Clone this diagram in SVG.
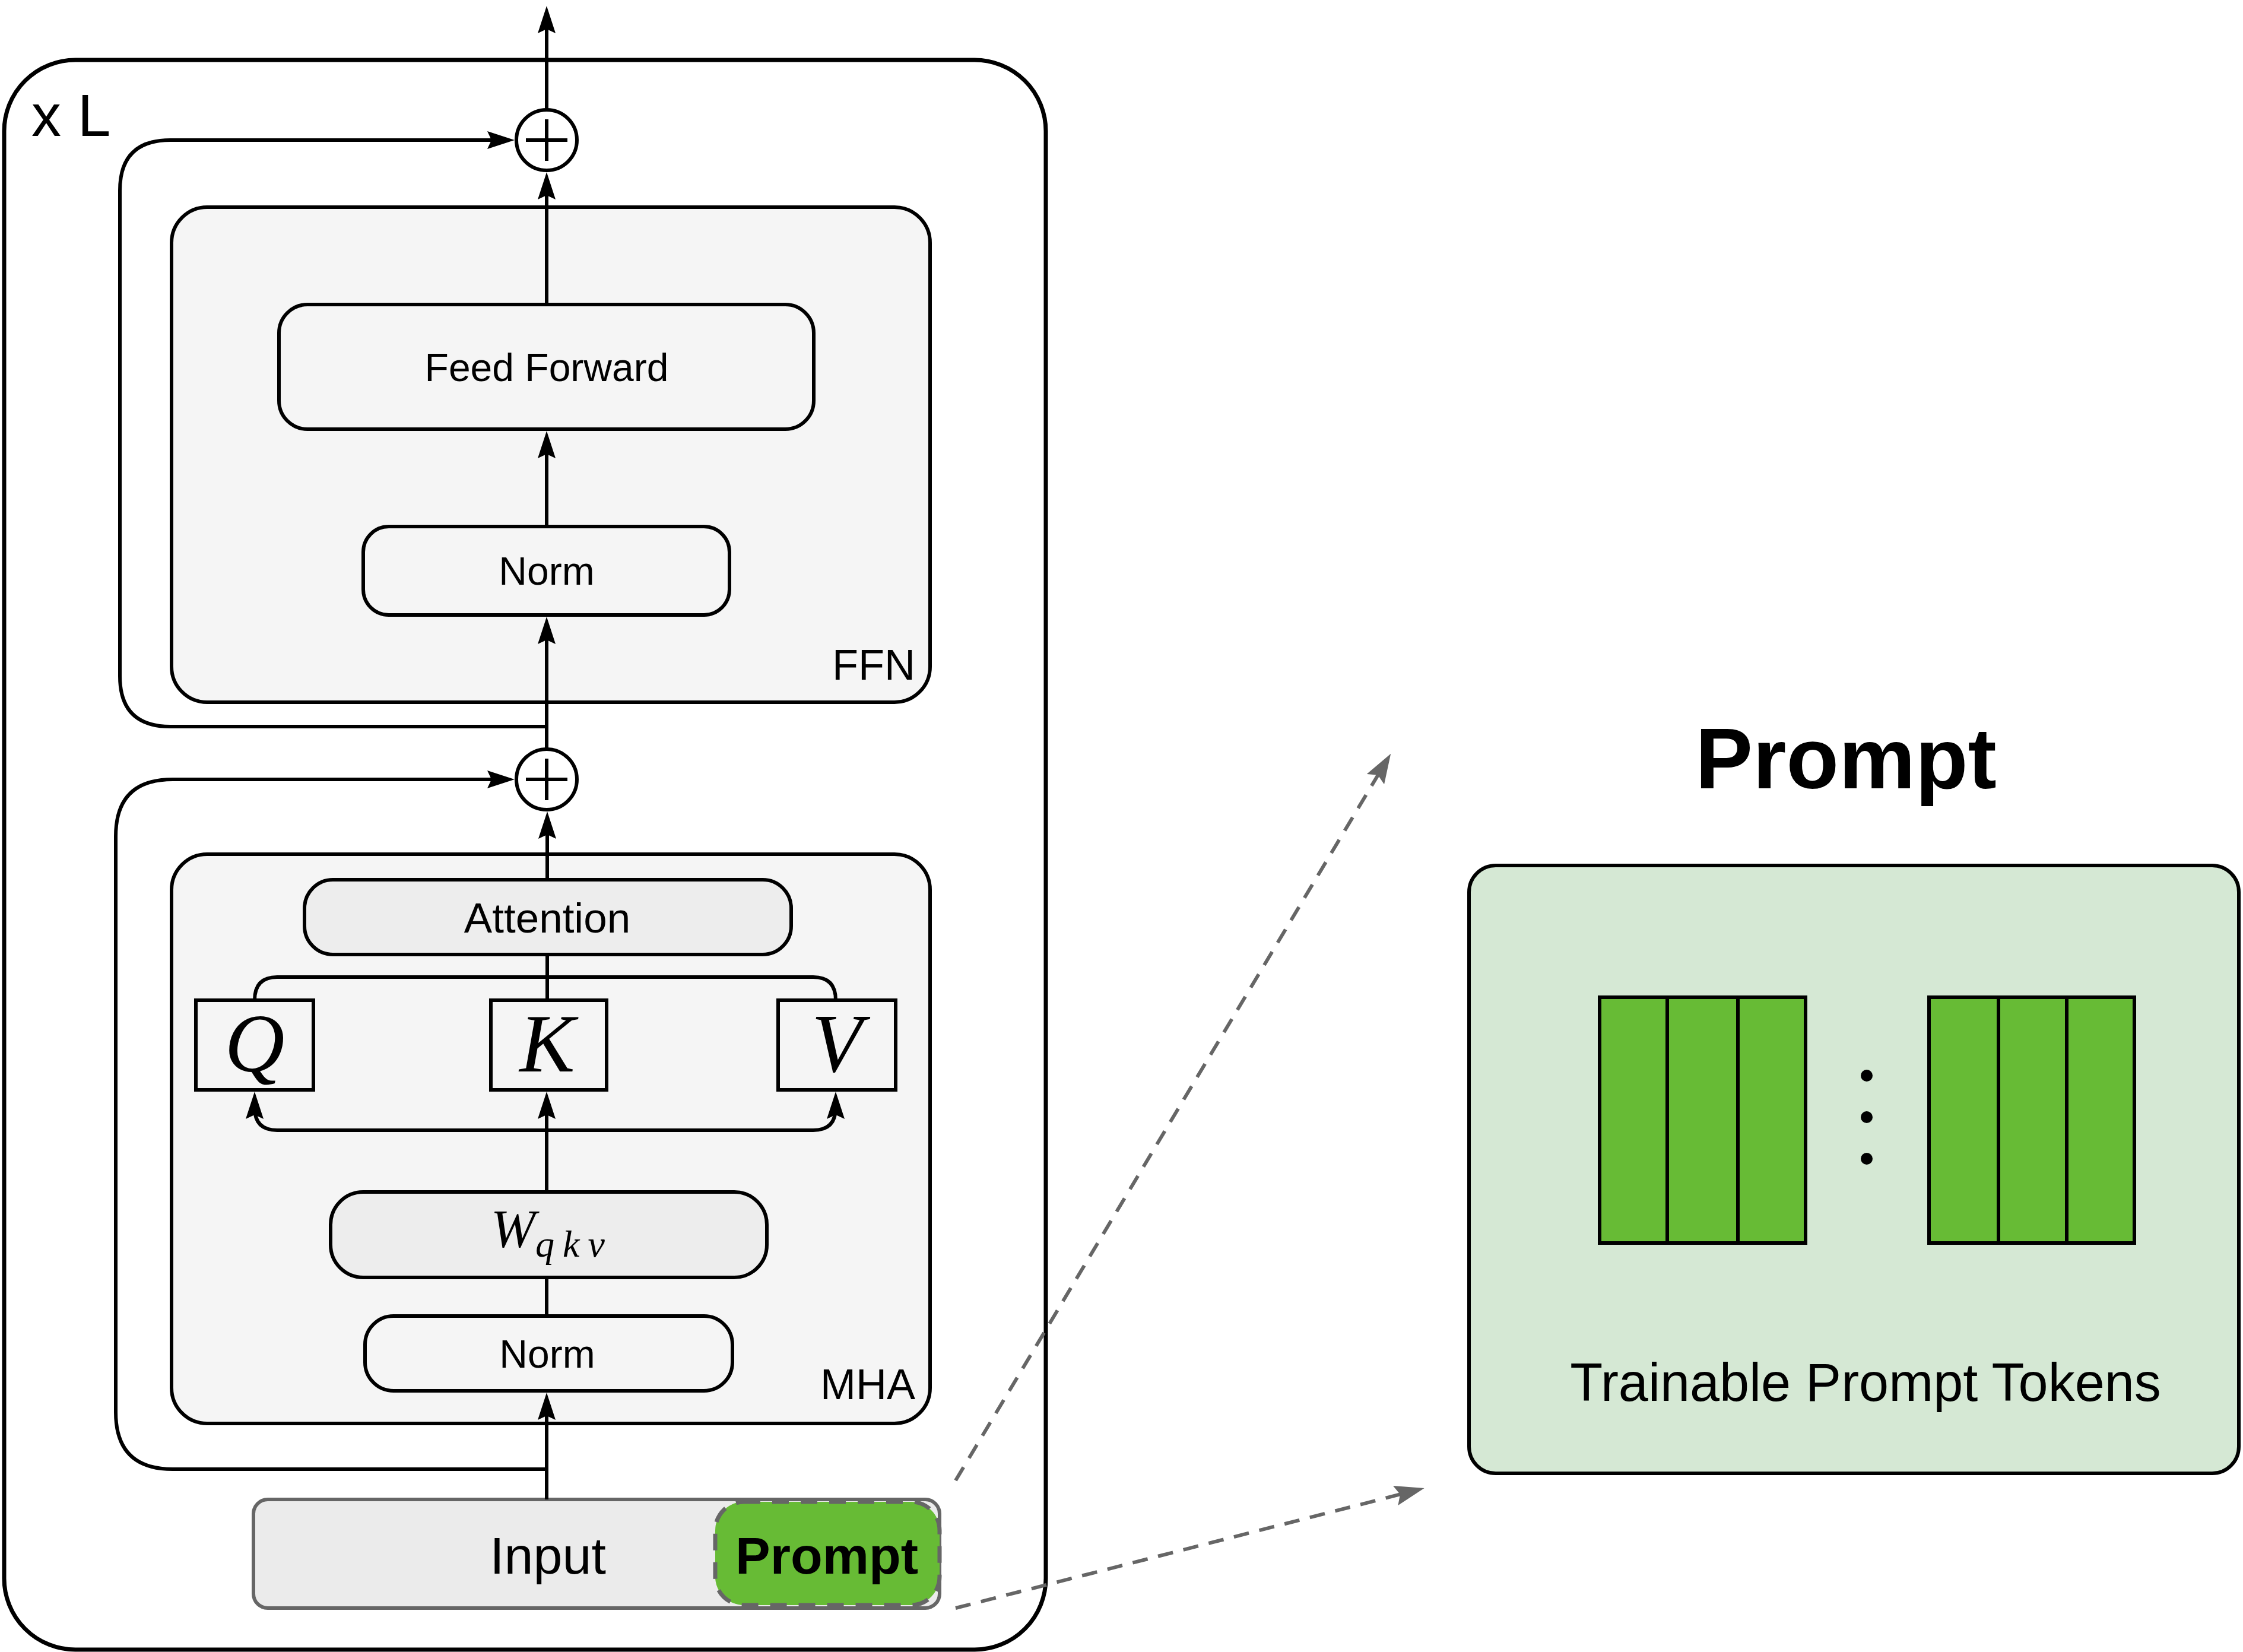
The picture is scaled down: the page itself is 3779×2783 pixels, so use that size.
<svg xmlns="http://www.w3.org/2000/svg" width="3779" height="2783" viewBox="0 0 3779 2783">
<defs>
<style>
.box{stroke:#000;stroke-width:6;fill:#f5f5f5}
.dark{fill:#ededed}
.lbl{font-family:"Liberation Sans",Arial,sans-serif;font-size:66px;fill:#000;text-anchor:middle}
.tag{font-family:"Liberation Sans",Arial,sans-serif;font-size:72px;fill:#000;text-anchor:end}
.math{font-family:"Liberation Serif","Times New Roman",serif;font-style:italic;fill:#000;text-anchor:middle}
.conn{fill:none;stroke:#000;stroke-width:6}
.dash{fill:none;stroke:#666;stroke-width:6;stroke-dasharray:26 18}
.tok{fill:#67bb35;stroke:#000;stroke-width:6}
</style>
<marker id="arr" viewBox="0 0 46 30" refX="34" refY="15" markerWidth="46" markerHeight="30" markerUnits="userSpaceOnUse" orient="auto">
<path d="M0,0 L46,15 L0,30 L7,15 z" fill="#000"/>
</marker>
<marker id="garr" viewBox="0 0 50 34" refX="38" refY="17" markerWidth="50" markerHeight="34" markerUnits="userSpaceOnUse" orient="auto">
<path d="M0,0 L50,17 L0,34 L8,17 z" fill="#666"/>
</marker>
</defs>

<g id="layer-block">
<rect x="7" y="101" width="1755" height="2678" rx="120" ry="120" fill="#fff" stroke="#000" stroke-width="7"/>
<text x="53" y="229" font-family="Liberation Sans,Arial,sans-serif" font-size="100" fill="#000">x L</text>
</g>

<g id="ffn">
<rect class="box" x="289" y="349" width="1278" height="834" rx="60" ry="60"/>
<text class="tag" x="1542" y="1145">FFN</text>
</g>
<g id="feed-forward">
<rect class="box" x="470" y="513" width="901" height="210" rx="48" ry="48"/>
<text class="lbl" x="921" y="642">Feed Forward</text>
</g>
<g id="norm-ffn">
<rect class="box" x="612" y="887" width="617" height="149" rx="43" ry="43"/>
<text class="lbl" x="921" y="985">Norm</text>
</g>

<g id="mha">
<rect class="box" x="289" y="1439" width="1278" height="959" rx="60" ry="60"/>
<text class="tag" x="1542" y="2357">MHA</text>
</g>
<g id="attention">
<rect class="box dark" x="513" y="1482" width="820" height="126" rx="48" ry="48"/>
<text class="lbl" x="922" y="1571" style="font-size:71px">Attention</text>
</g>
<g id="q">
<rect class="box" x="330" y="1685" width="198" height="151"/>
<text class="math" x="429" y="1805" font-size="140">Q</text>
</g>
<g id="k">
<rect class="box" x="827" y="1685" width="195" height="151"/>
<text class="math" x="922" y="1805" font-size="140">K</text>
</g>
<g id="v">
<rect class="box" x="1311" y="1685" width="198" height="151"/>
<text class="math" x="1410" y="1805" font-size="140">V</text>
</g>
<g id="wqkv">
<rect class="box dark" x="557" y="2008" width="735" height="144" rx="55" ry="55"/>
<text class="math" x="827" y="2101" font-size="90" style="text-anchor:start">W<tspan font-size="64" dy="16" letter-spacing="14">qkv</tspan></text>
</g>
<g id="norm-mha">
<rect class="box" x="615" y="2217" width="619" height="126" rx="48" ry="48"/>
<text class="lbl" x="922" y="2304">Norm</text>
</g>

<g id="add-top">
<circle cx="921" cy="236" r="51" fill="#fff" stroke="#000" stroke-width="6"/>
<path d="M921,201 V271 M886,236 H956" stroke="#000" stroke-width="6"/>
</g>
<g id="add-mid">
<circle cx="921" cy="1313" r="51" fill="#fff" stroke="#000" stroke-width="6"/>
<path d="M921,1278 V1348 M886,1313 H956" stroke="#000" stroke-width="6"/>
</g>

<g id="input">
<rect x="427" y="2526" width="1156" height="183" rx="24" ry="24" fill="#ebebeb" stroke="#666" stroke-width="6"/>
<text x="923" y="2651" font-family="Liberation Sans,Arial,sans-serif" font-size="88" fill="#000" text-anchor="middle">Input</text>
</g>
<g id="prompt-input">
<rect x="1205" y="2530" width="378" height="174" rx="48" ry="48" fill="#67bb35" stroke="#666" stroke-width="7" stroke-dasharray="28 20"/>
<text x="1393" y="2651" font-family="Liberation Sans,Arial,sans-serif" font-size="88" font-weight="bold" fill="#000" text-anchor="middle">Prompt</text>
</g>

<g id="prompt-title">
<text x="3110" y="1328" font-family="Liberation Sans,Arial,sans-serif" font-size="145" font-weight="bold" fill="#000" text-anchor="middle">Prompt</text>
</g>
<g id="prompt-panel">
<rect x="2475" y="1458" width="1297" height="1024" rx="45" ry="45" fill="#d5e8d4" stroke="#000" stroke-width="6"/>
<rect class="tok" x="2695" y="1680" width="114" height="414"/>
<rect class="tok" x="2809" y="1680" width="119" height="414"/>
<rect class="tok" x="2928" y="1680" width="114" height="414"/>
<rect class="tok" x="3250" y="1680" width="117" height="414"/>
<rect class="tok" x="3367" y="1680" width="115" height="414"/>
<rect class="tok" x="3482" y="1680" width="114" height="414"/>
<circle cx="3145" cy="1812" r="10" fill="#000"/>
<circle cx="3145" cy="1882" r="10" fill="#000"/>
<circle cx="3145" cy="1952" r="10" fill="#000"/>
<text x="3143" y="2360" font-family="Liberation Sans,Arial,sans-serif" font-size="90" fill="#000" text-anchor="middle">Trainable Prompt Tokens</text>
</g>

<g id="connectors">
<path class="conn" d="M921,2526 V2358" marker-end="url(#arr)"/>
<path class="conn" d="M921,2217 V2152"/>
<path class="conn" d="M921,2008 V1851" marker-end="url(#arr)"/>
<path class="conn" d="M921,1904 H467 Q429,1904 429,1866 V1851" marker-end="url(#arr)"/>
<path class="conn" d="M921,1904 H1370 Q1408,1904 1408,1866 V1851" marker-end="url(#arr)"/>
<path class="conn" d="M922,1685 V1608"/>
<path class="conn" d="M429,1685 Q429,1646 467,1646 H1370 Q1408,1646 1408,1685"/>
<path class="conn" d="M922,1482 V1379" marker-end="url(#arr)"/>
<path class="conn" d="M921,2475 H291 Q195,2475 195,2379 V1409 Q195,1313 291,1313 H855" marker-end="url(#arr)"/>
<path class="conn" d="M921,1262 V1051" marker-end="url(#arr)"/>
<path class="conn" d="M921,1224 H287 Q202,1224 202,1139 V321 Q202,236 287,236 H855" marker-end="url(#arr)"/>
<path class="conn" d="M921,887 V738" marker-end="url(#arr)"/>
<path class="conn" d="M921,513 V302" marker-end="url(#arr)"/>
<path class="conn" d="M921,185 V22" marker-end="url(#arr)"/>
<path class="dash" d="M1610,2494 L2337,1280" marker-end="url(#garr)"/>
<path class="dash" d="M1610,2709 L2388,2510" marker-end="url(#garr)"/>
</g>
</svg>
